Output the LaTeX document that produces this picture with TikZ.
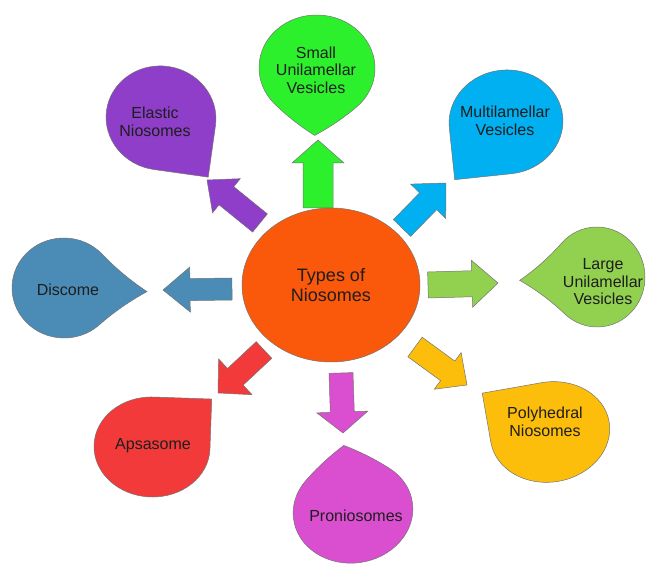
\documentclass[tikz,border=0pt]{standalone}
\usepackage{fontspec}
\setmainfont{Liberation Sans}
\usetikzlibrary{shapes.geometric}
\definecolor{cOrange}{RGB}{250,88,10}
\definecolor{cPurple}{RGB}{142,62,200}
\definecolor{cGreen}{RGB}{45,240,45}
\definecolor{cBlue}{RGB}{0,176,240}
\definecolor{cSteel}{RGB}{74,140,182}
\definecolor{cOlive}{RGB}{146,208,80}
\definecolor{cRed}{RGB}{242,58,58}
\definecolor{cMagenta}{RGB}{218,78,208}
\definecolor{cGold}{RGB}{252,190,10}
\definecolor{txt}{RGB}{30,30,30}
% teardrop: cx, cy (pixels, y down), rotation, xscale, yscale, inner rotation, tip factor, colour
\newcommand\tdrop[8]{%
  \begin{scope}[shift={(#1,565-#2)}, rotate=#3, xscale=#4, yscale=#5, rotate=#6]
    \pgfmathsetmacro\tds{#7}
    \filldraw[shapeline, fill=#8] (0,1) .. controls ({\tds/3},1) and ({2*\tds/3},{(\tds+2)/3}) .. (\tds,\tds)
      .. controls ({(\tds+2)/3},{2*\tds/3}) and (1,{\tds/3}) .. (1,0)
      arc[start angle=0, end angle=-270, radius=1] -- cycle;
  \end{scope}}
% block arrow: tail x,y ; tip x,y (pixels, y down) ; shaft half width ; head half width ; head length ; colour
\newcommand\barrow[8]{%
  \pgfmathsetmacro\bax{#3-#1}%
  \pgfmathsetmacro\bay{-(#4-#2)}%
  \pgfmathsetmacro\balen{veclen(\bax,\bay)}%
  \pgfmathsetmacro\baang{atan2(\bay,\bax)}%
  \pgfmathsetmacro\bab{\balen-#7}%
  \filldraw[shapeline, fill=#8, shift={(#1,565-#2)}, rotate=\baang]
    (0,-#5) -- (\bab,-#5) -- (\bab,-#6) -- (\balen,0) -- (\bab,#6) -- (\bab,#5) -- (0,#5) -- cycle;}
\begin{document}
\begin{tikzpicture}[x=1pt,y=1pt,
  shapeline/.style={draw=black!55, line width=0.5pt},
  lbl/.style={align=center, text=txt, font=\fontsize{16}{17.5}\selectfont, inner sep=0pt}]
\useasboundingbox (0,0) rectangle (646,565);
% teardrops
\tdrop{161}{118}{-98}{52}{55}{0}{1}{cPurple}
\tdrop{317}{68}{-92}{53}{58}{-45}{0.9}{cGreen}
\tdrop{506}{122}{186}{57}{52}{0}{1}{cBlue}
\tdrop{64}{288}{-2.5}{52}{50}{-45}{1.13}{cSteel}
\tdrop{597}{277}{182.5}{48}{50}{-45}{1.14}{cOlive}
\tdrop{353}{511}{98}{52}{60}{-45}{0.9}{cMagenta}
\tdrop{152}{447}{-2}{58}{50}{0}{1}{cRed}
\tdrop{550}{432}{100}{50}{60}{0}{1}{cGold}
% arrows
\barrow{318}{208}{318}{140}{15}{26}{23}{cGreen}
\barrow{260}{223}{207}{180}{11.7}{22}{25}{cPurple}
\barrow{402}{228}{446}{183}{12}{24.5}{25.5}{cBlue}
\barrow{232}{289}{163}{290}{11}{22.5}{27}{cSteel}
\barrow{428}{285}{498}{283}{13}{23.5}{26}{cOlive}
\barrow{264}{350}{218}{393}{11.4}{24.5}{23.7}{cRed}
\barrow{341}{373}{343}{433}{12}{25.5}{21}{cMagenta}
\barrow{415}{347}{467}{385}{12.1}{22.7}{23.9}{cGold}
% centre
\node[ellipse, shapeline, fill=cOrange, minimum width=178pt, minimum height=154pt,
  inner sep=0pt, align=center, text=txt, font=\fontsize{18}{20}\selectfont]
  (types) at (331,565-285) {Types of\\Niosomes};
% labels
\node[lbl] (elastic) at (155,565-122) {Elastic\\Niosomes};
\node[lbl] (suv) at (316,565-70) {Small\\Unilamellar\\Vesicles};
\node[lbl] (mlv) at (505,565-121) {Multilamellar\\Vesicles};
\node[lbl] (discome) at (68,565-290) {Discome};
\node[lbl] (luv) at (603,565-282) {Large\\Unilamellar\\Vesicles};
\node[lbl] (apsasome) at (153,565-446) {Apsasome};
\node[lbl] (pronio) at (356,565-516) {Proniosomes};
\node[lbl] (polyh) at (545,565-422) {Polyhedral\\Niosomes};
\end{tikzpicture}
\end{document}
